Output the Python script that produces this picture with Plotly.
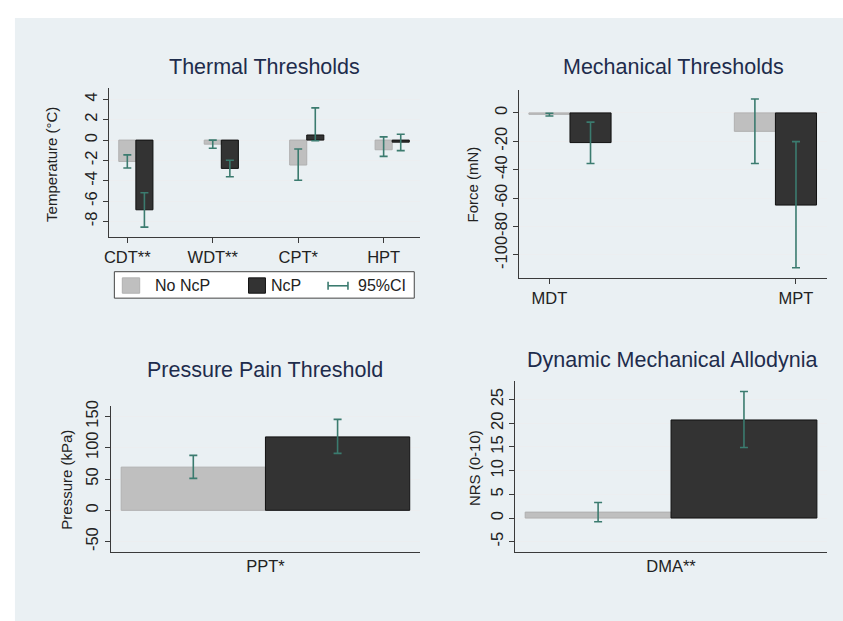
import plotly.graph_objects as go

# ---------------- data ----------------
thermal_cats = ["CDT**", "WDT**", "CPT*", "HPT"]
thermal_no = [-2.1, -0.4, -2.45, -0.95]
thermal_no_lo = [-2.75, -0.8, -3.95, -1.6]
thermal_no_hi = [-1.45, 0.0, -0.88, 0.32]
thermal_ncp = [-6.85, -2.78, 0.5, -0.2]
thermal_ncp_lo = [-8.55, -3.6, -0.07, -1.04]
thermal_ncp_hi = [-5.18, -1.98, 3.17, 0.58]

mech_cats = ["MDT", "MPT"]
mech_no = [-1.0, -13.0]
mech_no_lo = [-2.2, -35.6]
mech_no_hi = [-0.2, 9.8]
mech_ncp = [-20.9, -64.9]
mech_ncp_lo = [-35.6, -109.0]
mech_ncp_hi = [-6.5, -20.2]

ppt_cats = ["PPT*"]
ppt_no = [69.0]
ppt_no_lo = [51.0]
ppt_no_hi = [87.8]
ppt_ncp = [117.3]
ppt_ncp_lo = [91.0]
ppt_ncp_hi = [145.3]

dma_cats = ["DMA**"]
dma_no = [1.25]
dma_no_lo = [-0.77]
dma_no_hi = [3.27]
dma_ncp = [20.7]
dma_ncp_lo = [14.9]
dma_ncp_hi = [26.7]

thermal_ticks = [-8, -6, -4, -2, 0, 2, 4]
mech_ticks = [-100, -80, -60, -40, -20, 0]
ppt_ticks = [-50, 0, 50, 100, 150]
dma_ticks = [-5, 0, 5, 10, 15, 20, 25]

# ---------------- styles ----------------
W, H = 843, 621
FONT = "Liberation Sans, Arial, sans-serif"
C_NO = "#bfbfbf"
C_NCP = "#333333"
C_CI = "#3b7b6f"
BG = "#eaf0f3"
TITLE_C = "#1e2c4c"
TXT = "#222222"


def fx(px):
    return px / W


def fy(py):
    return 1 - py / H


fig = go.Figure()

panels = [
    (thermal_cats, thermal_no, thermal_no_lo, thermal_no_hi, thermal_ncp, thermal_ncp_lo, thermal_ncp_hi,
     0.1, 0.2, "x", "y", [-1, -1, -1, -1]),
    (mech_cats, mech_no, mech_no_lo, mech_no_hi, mech_ncp, mech_ncp_lo, mech_ncp_hi,
     0.1, 0.2, "x2", "y2", [-1, 1]),
    (ppt_cats, ppt_no, ppt_no_lo, ppt_no_hi, ppt_ncp, ppt_ncp_lo, ppt_ncp_hi,
     0.25, 0.5, "x3", "y3", [0]),
    (dma_cats, dma_no, dma_no_lo, dma_no_hi, dma_ncp, dma_ncp_lo, dma_ncp_hi,
     0.25, 0.5, "x4", "y4", [0]),
]

tickinfo = []
for cats, no, nolo, nohi, ncp, ncplo, ncphi, off, wd, xa, ya, side in panels:
    idx = list(range(len(cats)))
    xno = [i - off for i in idx]
    xncp = [i + off for i in idx]
    fig.add_trace(go.Bar(x=xno, y=no, width=[wd] * len(idx), xaxis=xa, yaxis=ya,
                         marker=dict(color=C_NO, line=dict(color="#b0b0b0", width=1)),
                         showlegend=False, hoverinfo="skip"))
    fig.add_trace(go.Bar(x=xncp, y=ncp, width=[wd] * len(idx), xaxis=xa, yaxis=ya,
                         marker=dict(color=C_NCP, line=dict(color="#111111", width=1)),
                         showlegend=False, hoverinfo="skip"))
    for xs, v, lo, hi in ((xno, no, nolo, nohi), (xncp, ncp, ncplo, ncphi)):
        fig.add_trace(go.Scatter(
            x=xs, y=v, mode="markers", xaxis=xa, yaxis=ya,
            marker=dict(size=0.1, color="rgba(0,0,0,0)"),
            error_y=dict(type="data", symmetric=False,
                         array=[h - m for h, m in zip(hi, v)],
                         arrayminus=[m - l for m, l in zip(v, lo)],
                         color=C_CI, thickness=1.6, width=4),
            showlegend=False, hoverinfo="skip"))
    tickinfo.append([i + s * off for i, s in zip(idx, side)])

fig.update_layout(barmode="overlay")

axis_common = dict(showline=True, linecolor="#3a3a3a", linewidth=1, zeroline=False)

doms = [
    ((105, 417), (83, 233), (-0.31, 3.32), (-9.5, 5.1), thermal_ticks, thermal_cats, True),
    ((517.3, 826.7), (85, 275), (-0.247, 1.25), (-116.5, 16), mech_ticks, mech_cats, True),
    ((106.7, 417.3), (404.3, 551), (-0.535, 0.535), (-66, 166), ppt_ticks, ppt_cats, False),
    ((513.3, 827.3), (378.3, 551), (-0.534, 0.536), (-7.1, 29), dma_ticks, dma_cats, False),
]

layout_axes = {}
for k, ((x0, x1), (y0, y1), xr, yr, yt, cats, xticks) in enumerate(doms):
    sx = "" if k == 0 else str(k + 1)
    layout_axes["xaxis" + sx] = dict(
        domain=[fx(x0), fx(x1)], range=list(xr), anchor="y" + sx,
        tickvals=tickinfo[k], ticktext=cats,
        ticks="outside" if xticks else "", ticklen=5, tickcolor="#3a3a3a",
        showgrid=False, fixedrange=True,
        tickfont=dict(family=FONT, size=16.5, color=TXT), **axis_common)
    layout_axes["yaxis" + sx] = dict(
        domain=[fy(y1), fy(y0)], range=list(yr), anchor="x" + sx,
        tickvals=yt, ticktext=[str(v) for v in yt],
        ticks="outside", ticklen=5, tickcolor="#3a3a3a",
        tickangle=-90, showgrid=True, gridcolor="#eceef0", gridwidth=1,
        fixedrange=True, tickfont=dict(family=FONT, size=16.5, color=TXT), **axis_common)

fig.update_layout(**layout_axes)

annotations = []
titles = [("Thermal Thresholds", 261, 62), ("Mechanical Thresholds", 672, 62),
          ("Pressure Pain Threshold", 262, 368), ("Dynamic Mechanical Allodynia", 671, 357)]
for t, x, y in titles:
    annotations.append(dict(text=t, x=fx(x), y=fy(y), xref="paper", yref="paper",
                            xanchor="center", yanchor="middle", showarrow=False,
                            font=dict(family=FONT, size=21.5, color=TITLE_C)))
ytitles = [("Temperature (°C)", 46.7, 160), ("Force (mN)", 470, 180),
           ("Pressure (kPa)", 61.7, 478), ("NRS (0-10)", 471.7, 466.7)]
for t, x, y in ytitles:
    annotations.append(dict(text=t, x=fx(x), y=fy(y), xref="paper", yref="paper",
                            xanchor="center", yanchor="middle", showarrow=False, textangle=-90,
                            font=dict(family=FONT, size=15, color=TXT)))

shapes = [
    dict(type="rect", xref="paper", yref="paper", x0=fx(10), x1=fx(843), y0=fy(621), y1=fy(12),
         fillcolor=BG, line=dict(width=0), layer="below"),
    dict(type="rect", xref="paper", yref="paper", x0=fx(110), x1=fx(411.7), y0=fy(295), y1=fy(268.3),
         fillcolor="white", line=dict(color="#444444", width=1)),
    dict(type="rect", xref="paper", yref="paper", x0=fx(118), x1=fx(135.5), y0=fy(290), y1=fy(274.5),
         fillcolor=C_NO, line=dict(color="#b0b0b0", width=1)),
    dict(type="rect", xref="paper", yref="paper", x0=fx(245), x1=fx(262), y0=fy(290), y1=fy(274.5),
         fillcolor=C_NCP, line=dict(color="#111111", width=1)),
    dict(type="line", xref="paper", yref="paper", x0=fx(325), x1=fx(345), y0=fy(282.5), y1=fy(282.5),
         line=dict(color=C_CI, width=1.6)),
    dict(type="line", xref="paper", yref="paper", x0=fx(325), x1=fx(325), y0=fy(278.5), y1=fy(286.5),
         line=dict(color=C_CI, width=1.6)),
    dict(type="line", xref="paper", yref="paper", x0=fx(345), x1=fx(345), y0=fy(278.5), y1=fy(286.5),
         line=dict(color=C_CI, width=1.6)),
]
for t, x in (("No NcP", 149), ("NcP", 266), ("95%CI", 353)):
    annotations.append(dict(text=t, x=fx(x), y=fy(282.5), xref="paper", yref="paper",
                            xanchor="left", yanchor="middle", showarrow=False,
                            font=dict(family=FONT, size=16, color=TXT)))

fig.update_layout(
    width=W, height=H, margin=dict(l=0, r=0, t=0, b=0),
    paper_bgcolor="white", plot_bgcolor="white",
    annotations=annotations, shapes=shapes, showlegend=False,
    font=dict(family=FONT, color=TXT),
)

fig.write_html(
    "out.html",
    config={"displayModeBar": False},
    post_script=("document.body.style.margin='0';"
                 "document.documentElement.style.overflow='hidden';"),
)
